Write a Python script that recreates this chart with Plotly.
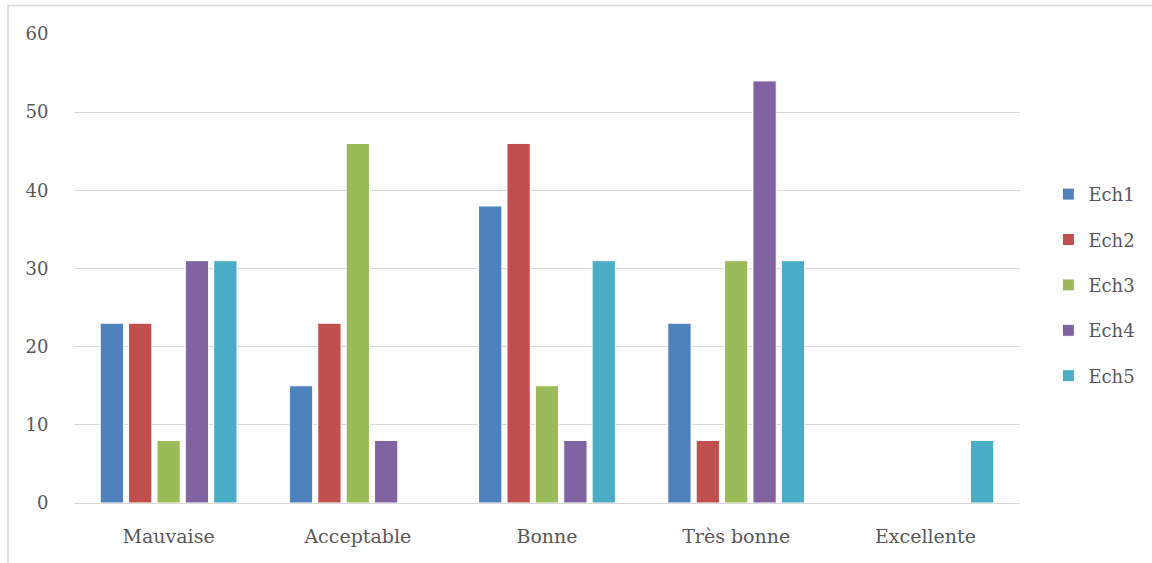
import plotly.graph_objects as go

categories = ["Mauvaise", "Acceptable", "Bonne", "Très bonne", "Excellente"]
series_names = ["Ech1", "Ech2", "Ech3", "Ech4", "Ech5"]
ech1 = [23, 15, 38, 23, 0]
ech2 = [23, 23, 46, 8, 0]
ech3 = [8, 46, 15, 31, 0]
ech4 = [31, 8, 8, 54, 0]
ech5 = [31, 0, 31, 31, 8]
series_values = [ech1, ech2, ech3, ech4, ech5]
colors = ["#4F81BD", "#C0504D", "#9BBB59", "#8064A2", "#4BACC6"]
y_ticks = [0, 10, 20, 30, 40, 50, 60]

W, H = 1152, 563
ML, MR, MT, MB = 74, 132, 34, 60
FONT = "DejaVu Serif"
TXT = "#595959"

fig = go.Figure()
for i, (name, vals) in enumerate(zip(series_names, series_values)):
    fig.add_trace(go.Bar(
        x=categories, y=vals, name=name,
        marker=dict(color=colors[i], line=dict(color="white", width=1)),
        legendgroup=name,
    ))

pw = W - ML - MR
ph = H - MT - MB
fig.add_shape(type="rect", xref="paper", yref="paper",
              x0=(8 - ML) / pw, x1=(W + 20 - ML) / pw,
              y0=-(H + 20 - MT - ph) / ph, y1=1 + (MT - 5.5) / ph,
              line=dict(color="#D9D9D9", width=1.5), layer="below")

fig.update_layout(
    width=W, height=H,
    margin=dict(l=ML, r=MR, t=MT, b=MB),
    paper_bgcolor="white", plot_bgcolor="white",
    barmode="group", bargap=0.25, bargroupgap=0.18,
    font=dict(family=FONT, color=TXT, size=17),
    showlegend=True,
    legend=dict(x=1.03, xanchor="left", y=0.465, yanchor="middle",
                font=dict(size=18, color=TXT, family=FONT),
                tracegroupgap=19, itemwidth=30,
                bgcolor="rgba(0,0,0,0)"),
    xaxis=dict(showgrid=False, showline=False, zeroline=False,
               ticks="outside", ticklen=16, tickcolor="rgba(0,0,0,0)",
               tickfont=dict(size=19, color=TXT, family=FONT)),
    yaxis=dict(range=[0, 60], tickvals=y_ticks, showgrid=True,
               gridcolor="#D9D9D9", gridwidth=1.3, zeroline=True,
               zerolinecolor="#D9D9D9", zerolinewidth=1.3, showline=False,
               ticks="outside", ticklen=21, tickcolor="rgba(0,0,0,0)",
               tickfont=dict(size=18, color=TXT, family=FONT)),
)

fig.write_html("out.html")
